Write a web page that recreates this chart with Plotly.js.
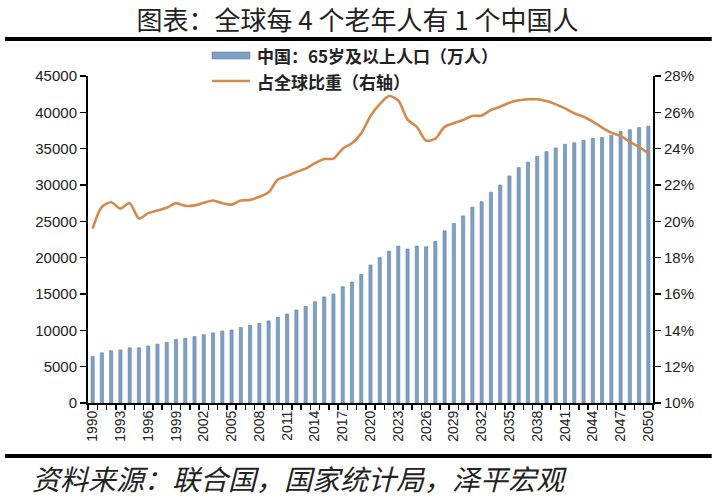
<!DOCTYPE html>
<html>
<head>
<meta charset="utf-8">
<script src="https://cdn.plot.ly/plotly-3.0.1.min.js"></script>
<style>html,body{margin:0;padding:0;background:#fff;}#chart{width:715px;height:500px;}</style>
</head>
<body>
<div id="chart"></div>
<script>
// ---- data ----
const years = [1990,1991,1992,1993,1994,1995,1996,1997,1998,1999,
  2000,2001,2002,2003,2004,2005,2006,2007,2008,2009,
  2010,2011,2012,2013,2014,2015,2016,2017,2018,2019,
  2020,2021,2022,2023,2024,2025,2026,2027,2028,2029,
  2030,2031,2032,2033,2034,2035,2036,2037,2038,2039,
  2040,2041,2042,2043,2044,2045,2046,2047,2048,2049,2050];

// 中国：65岁及以上人口（万人）
const chinaElderly = [6400,6900,7200,7300,7600,7600,7850,8100,8350,8750,
  8900,9150,9400,9650,9900,10050,10400,10700,10950,11300,
  11800,12250,12800,13300,13950,14600,15000,16000,16650,17700,
  19000,20000,20900,21600,21200,21600,21500,22250,23700,24700,
  25750,26950,27700,29000,30000,31250,32400,33150,33950,34600,
  35100,35600,35800,36150,36400,36550,36850,37350,37600,37900,38100];

// 占全球比重（右轴），%
const globalShare = [19.6,20.8,21.05,20.7,21.0,20.15,20.45,20.6,20.75,21.0,
  20.85,20.88,21.02,21.15,21.0,20.92,21.15,21.18,21.35,21.6,
  22.3,22.5,22.72,22.9,23.2,23.43,23.45,24.0,24.3,24.85,
  25.8,26.45,26.9,26.65,25.6,25.2,24.45,24.55,25.2,25.4,
  25.58,25.8,25.82,26.13,26.31,26.53,26.66,26.72,26.72,26.62,
  26.44,26.22,25.95,25.76,25.49,25.16,24.88,24.7,24.38,24.08,23.75];

const xTickVals = [1990,1993,1996,1999,2002,2005,2008,2011,2014,2017,2020,2023,2026,2029,2032,2035,2038,2041,2044,2047,2050];
const xTickText = ['1990','1993','1996','1999','2002','2005','2008','2011','2014','2017','2020','2023','2026','2029','2032','2035','2038','2041','2044','2047','2050'];
const leftTicks = [0,5000,10000,15000,20000,25000,30000,35000,40000,45000];
const leftTickText = ['0','5000','10000','15000','20000','25000','30000','35000','40000','45000'];
const rightTicks = [10,12,14,16,18,20,22,24,26,28];
const rightTickText = ['10%','12%','14%','16%','18%','20%','22%','24%','26%','28%'];

const titleText = '图表：全球每 4 个老年人有 1 个中国人';
const barName = '中国：65岁及以上人口（万人）';
const lineName = '占全球比重（右轴）';
const sourceText = '资料来源：联合国，国家统计局，泽平宏观';

// ---- chart ----
const barColor = '#7f9fc4';
const lineColor = '#d58a4c';
const tickFont = {family: '"Liberation Sans", Arial, sans-serif', size: 15, color: '#222'};

const traces = [
  {
    type: 'bar', name: barName, x: years, y: chinaElderly,
    marker: {color: barColor, line: {color: '#5d80a8', width: 0.6}},
    showlegend: false, hoverinfo: 'x+y'
  },
  {
    type: 'scatter', mode: 'lines', name: lineName, x: years, y: globalShare,
    yaxis: 'y2', line: {color: lineColor, width: 2.6, shape: 'spline', smoothing: 0.8},
    showlegend: false
  }
];

const cjk = '"Noto Sans CJK SC", "Noto Sans", sans-serif';

const layout = {
  width: 715, height: 500,
  margin: {l: 88, r: 62, t: 76, b: 97, pad: 0},
  paper_bgcolor: '#fff', plot_bgcolor: '#fff',
  bargap: 0.66,
  title: {
    text: titleText, x: 0.5, xref: 'container', xanchor: 'center',
    y: 0.958, yref: 'container', yanchor: 'middle',
    font: {family: cjk, size: 26, color: '#222'}
  },
  xaxis: {
    type: 'linear', range: [1989.5, 2050.5],
    tickmode: 'array', tickvals: xTickVals, ticktext: xTickText,
    tickangle: -90, tickfont: {family: tickFont.family, size: 14, color: '#222'},
    ticks: '', showgrid: false, zeroline: false,
    showline: true, linecolor: '#000', linewidth: 2,
    minor: {tick0: 1989.5, dtick: 1, ticks: 'outside', ticklen: 5, tickwidth: 1.5, tickcolor: '#000', showgrid: false},
    fixedrange: true
  },
  yaxis: {
    range: [0, 45000], tickmode: 'array', tickvals: leftTicks, ticktext: leftTickText,
    tickfont: tickFont, ticks: 'outside', ticklen: 6, tickwidth: 1.5, tickcolor: '#000',
    showline: true, linecolor: '#000', linewidth: 2,
    showgrid: false, zeroline: false, fixedrange: true
  },
  yaxis2: {
    overlaying: 'y', side: 'right', range: [10, 28],
    tickmode: 'array', tickvals: rightTicks, ticktext: rightTickText,
    tickfont: tickFont, ticks: 'outside', ticklen: 6, tickwidth: 1.5, tickcolor: '#000',
    showline: true, linecolor: '#000', linewidth: 2,
    showgrid: false, zeroline: false, fixedrange: true
  },
  shapes: [
    // top rule
    {type: 'line', xref: 'paper', yref: 'paper', x0: -0.147, x1: 1.104, y0: 1.1131, y1: 1.1131, line: {color: '#000', width: 4}},
    // bottom rule
    {type: 'line', xref: 'paper', yref: 'paper', x0: -0.147, x1: 1.104, y0: -0.1621, y1: -0.1621, line: {color: '#000', width: 4}},
    // legend: bar swatch
    {type: 'rect', xref: 'paper', yref: 'paper', x0: 0.2195, x1: 0.2867, y0: 1.052, y1: 1.0734, fillcolor: barColor, line: {color: '#5d80a8', width: 0.6}},
    // legend: line swatch
    {type: 'line', xref: 'paper', yref: 'paper', x0: 0.2195, x1: 0.2867, y0: 0.9847, y1: 0.9847, line: {color: lineColor, width: 2.6}}
  ],
  annotations: [
    {text: barName, xref: 'paper', yref: 'paper', x: 0.2956, y: 1.0642, xanchor: 'left', yanchor: 'middle', showarrow: false,
     font: {family: cjk, size: 17, color: '#222', weight: 'bold'}},
    {text: lineName, xref: 'paper', yref: 'paper', x: 0.2956, y: 0.9847, xanchor: 'left', yanchor: 'middle', showarrow: false,
     font: {family: cjk, size: 17, color: '#222', weight: 'bold'}},
    {text: sourceText, xref: 'paper', yref: 'paper', x: -0.1027, y: -0.2294, xanchor: 'left', yanchor: 'middle', showarrow: false,
     font: {family: cjk, size: 28, color: '#222', style: 'italic'}}
  ]
};

Plotly.newPlot('chart', traces, layout, {displayModeBar: false, staticPlot: true});
</script>
</body>
</html>
